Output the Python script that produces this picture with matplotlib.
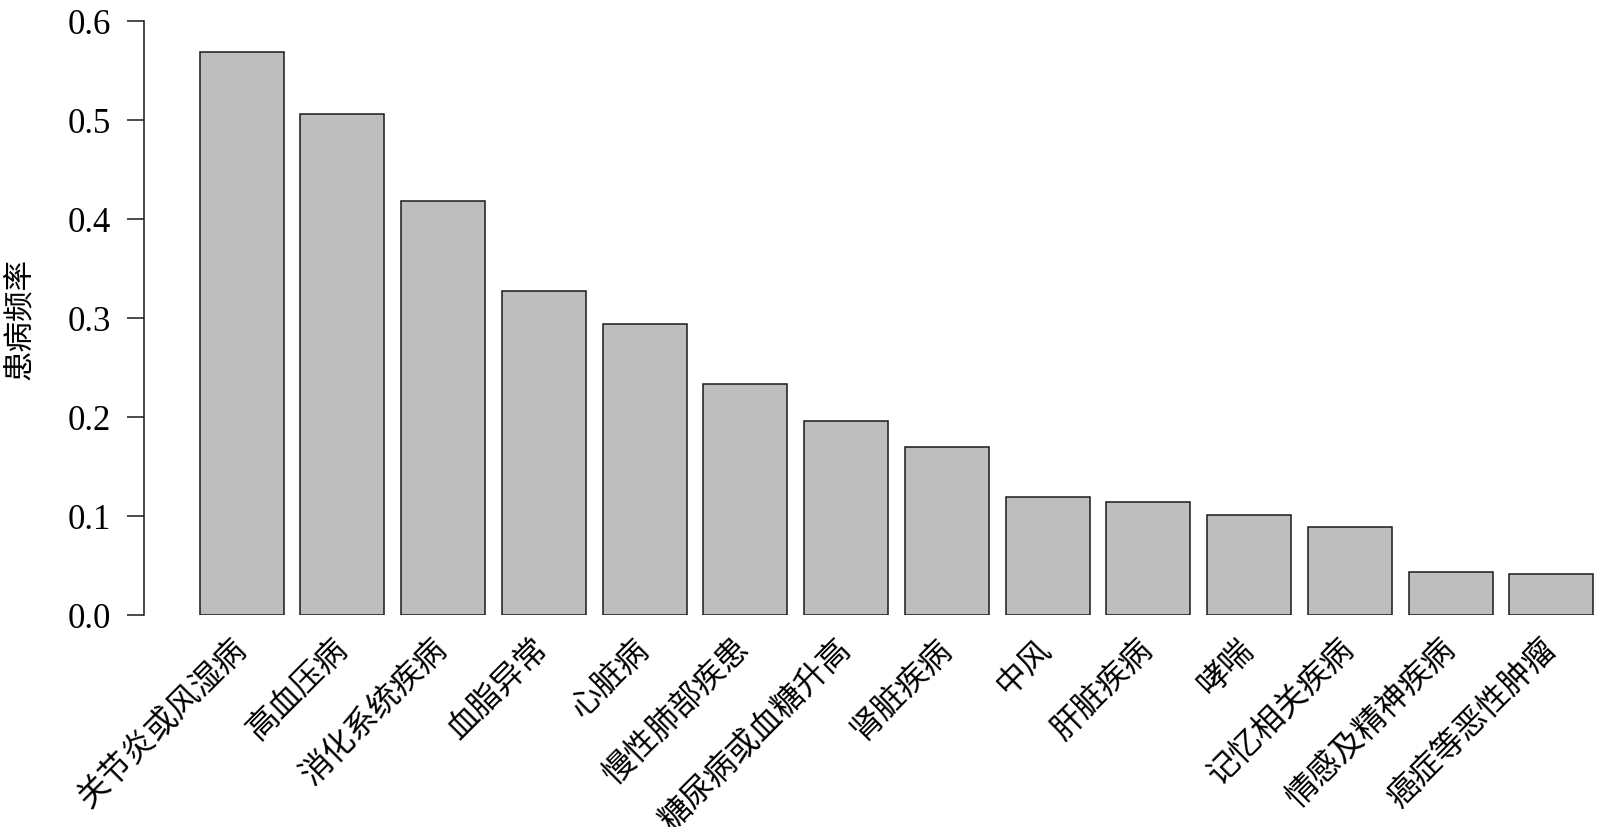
import matplotlib
matplotlib.use("Agg")
import matplotlib.pyplot as plt
import numpy as np

plt.rcParams['font.family'] = ['Liberation Serif', 'Noto Sans CJK SC']

# Disease categories and prevalence
diseases = ['关节炎或风湿病', '高血压病', '消化系统疾病', '血脂异常', '心脏病',
            '慢性肺部疾患', '糖尿病或血糖升高', '肾脏疾病', '中风', '肝脏疾病',
            '哮喘', '记忆相关疾病', '情感及精神疾病', '癌症等恶性肿瘤']
rates = [0.568, 0.506, 0.418, 0.327, 0.294, 0.233, 0.196, 0.169,
         0.119, 0.114, 0.101, 0.089, 0.043, 0.041]
y_ticks = [0.0, 0.1, 0.2, 0.3, 0.4, 0.5, 0.6]

W, H = 1600, 828
fig = plt.figure(figsize=(W / 100, H / 100), dpi=100)

# axes placed in pixel terms, R-barplot style (width 1, space 0.2)
left_px, right_px = 144, 1600
bottom_px, top_px = H - 615.7, H - 21.7
ax = fig.add_axes([left_px / W, bottom_px / H,
                   (right_px - left_px) / W, (top_px - bottom_px) / H])

n = len(rates)
lefts = 0.2 + 1.2 * np.arange(n)
centers = lefts + 0.5
ax.bar(centers, rates, width=1.0, color='#bebebe', edgecolor='#1a1a1a',
       linewidth=1.1)

ax.set_xlim(-0.464, 16.88)
ax.set_ylim(0, 0.6)

for s in ['top', 'right', 'bottom']:
    ax.spines[s].set_visible(False)
ax.spines['left'].set_bounds(0, 0.6)
ax.spines['left'].set_linewidth(1.1)
ax.spines['left'].set_color('#1a1a1a')

ax.set_yticks(y_ticks)
ax.set_yticklabels([f'{v:.1f}' for v in y_ticks], fontsize=25)
ax.tick_params(axis='y', length=12, width=1.1, color='#1a1a1a', pad=12)

ax.set_xticks(centers)
ax.set_xticklabels(diseases, fontsize=23, rotation=45, ha='right',
                   va='center', rotation_mode='anchor')
ax.tick_params(axis='x', length=0, pad=21)

# y label placed directly in figure pixels
fig.text(20 / W, (H - 318.7) / H, '患病频率', rotation=90, fontsize=22,
         ha='center', va='center')

fig.savefig('out.png', dpi=100)
